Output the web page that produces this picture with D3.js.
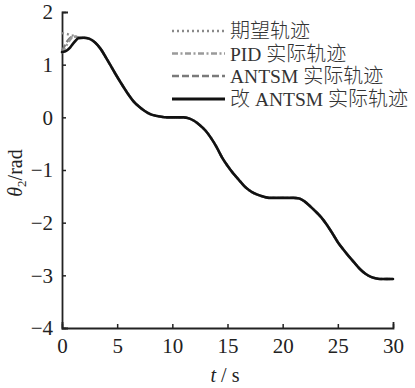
<!DOCTYPE html>
<html>
<head>
<meta charset="utf-8">
<script src="https://cdn.jsdelivr.net/npm/d3@7"></script>
<style>
  html, body { margin: 0; padding: 0; background: #fff; }
  svg { display: block; }
  text { fill: #222; }
  .serif { font-family: "Liberation Serif", "Times New Roman", serif; }
  .cjk { font-family: "Noto Sans CJK SC", sans-serif; }
</style>
</head>
<body>
<svg id="chart" width="415" height="388"></svg>
<script>
// ---- data ----
const headTimes = [0, 0.25, 0.5, 0.75, 1, 1.25, 1.5, 2];
const desiredHead  = [1.60, 1.59, 1.58, 1.56, 1.55, 1.53, 1.52, 1.51];
const pidHead      = [1.22, 1.30, 1.40, 1.48, 1.53, 1.53, 1.52, 1.51];
const antsmHead    = [1.26, 1.36, 1.45, 1.51, 1.54, 1.53, 1.52, 1.51];
const improvedHead = [1.24, 1.25, 1.28, 1.33, 1.40, 1.46, 1.50, 1.51];

const tailTimes = [2.5, 3, 3.5, 4, 4.5, 5, 5.5, 6, 6.5, 7, 7.5, 8, 8.5, 9, 9.5, 10,
  10.5, 11, 11.5, 12, 12.5, 13, 13.5, 14, 14.5, 15, 15.5, 16, 16.5, 17, 17.5, 18,
  18.5, 19, 19.5, 20, 20.5, 21, 21.5, 22, 22.5, 23, 23.5, 24, 24.5, 25, 25.5, 26,
  26.5, 27, 27.5, 28, 28.5, 29, 29.5, 30];
const commonTail = [1.49, 1.42, 1.30, 1.13, 0.95, 0.77, 0.60, 0.44, 0.30, 0.20, 0.12, 0.06, 0.03, 0.01, 0.00, 0.00,
  0.00, 0.00, -0.02, -0.07, -0.15, -0.25, -0.39, -0.56, -0.76, -0.92, -1.06, -1.18, -1.30, -1.39, -1.45, -1.49,
  -1.52, -1.53, -1.53, -1.53, -1.53, -1.53, -1.54, -1.60, -1.69, -1.79, -1.90, -2.04, -2.20, -2.37, -2.51, -2.64,
  -2.76, -2.88, -2.97, -3.03, -3.06, -3.07, -3.07, -3.07];

const xTicks = [0, 5, 10, 15, 20, 25, 30];
const yTicks = [-4, -3, -2, -1, 0, 1, 2];

const seriesNames = ["期望轨迹", "PID 实际轨迹", "ANTSM 实际轨迹", "改 ANTSM 实际轨迹"];

// ---- build series ----
const times = headTimes.concat(tailTimes);
function build(head) { return head.concat(commonTail).map((v, i) => ({ t: times[i], v })); }
const series = [
  { name: seriesNames[0], data: build(desiredHead),  color: "#8a8a8a", width: 2.4, dash: "2,3", cap: "butt" },
  { name: seriesNames[1], data: build(pidHead),      color: "#9a9a9a", width: 2.4, dash: "6,2.5,2,2.5", cap: "butt" },
  { name: seriesNames[2], data: build(antsmHead),    color: "#7a7a7a", width: 2.4, dash: "7,3", cap: "butt" },
  { name: seriesNames[3], data: build(improvedHead), color: "#111111", width: 2.6, dash: null, cap: "round" }
];

// ---- layout ----
const svg = d3.select("#chart");
const x = d3.scaleLinear().domain([0, 30]).range([62, 393]);
const y = d3.scaleLinear().domain([-4, 2]).range([328, 12]);

// axes
const xAxis = d3.axisBottom(x).tickValues(xTicks).tickFormat(d3.format("d"))
  .tickSizeInner(-4).tickSizeOuter(-6).tickPadding(10);
const yAxis = d3.axisLeft(y).tickValues(yTicks).tickFormat(d3.format("d"))
  .tickSizeInner(-4).tickSizeOuter(-6).tickPadding(9);

const gx = svg.append("g").attr("transform", `translate(0,${y(-4)})`).call(xAxis);
const gy = svg.append("g").attr("transform", `translate(${x(0)},0)`).call(yAxis);
[gx, gy].forEach(g => {
  g.attr("font-family", null).attr("font-size", null);
  g.select(".domain").attr("stroke", "#222").attr("stroke-width", 1.8);
  g.selectAll(".tick line").attr("stroke", "#222").attr("stroke-width", 1.5);
  g.selectAll(".tick text").attr("class", "serif").style("font-size", "21px").attr("fill", "#222");
});

// lines
const line = d3.line().x(d => x(d.t)).y(d => y(d.v)).curve(d3.curveMonotoneX);
const drawOrder = [2, 1, 0, 3];
drawOrder.forEach(i => {
  const s = series[i];
  svg.append("path")
    .datum(s.data)
    .attr("d", line)
    .attr("fill", "none")
    .attr("stroke", s.color)
    .attr("stroke-width", s.width)
    .attr("stroke-linecap", s.cap)
    .attr("stroke-linejoin", "round")
    .attr("stroke-dasharray", s.dash);
});

// legend
const legRows = [31, 53.5, 76, 99];
series.forEach((s, i) => {
  const yy = legRows[i];
  svg.append("line")
    .attr("x1", 172).attr("x2", 225).attr("y1", yy).attr("y2", yy)
    .attr("stroke", s.color).attr("stroke-width", s.width + 0.2)
    .attr("stroke-dasharray", s.dash);
  const txt = svg.append("text").attr("x", 230).attr("y", yy + 7);
  const parts = s.name.match(/[\u4e00-\u9fff]+|[^\u4e00-\u9fff]+/g);
  parts.forEach(p => {
    const cjk = /[\u4e00-\u9fff]/.test(p);
    txt.append("tspan")
      .attr("class", cjk ? "cjk" : "serif")
      .style("font-size", cjk ? "20px" : "19.5px")
      .style("font-weight", cjk ? 300 : 400)
      .attr("fill", "#333")
      .text(p);
  });
});

// axis labels
const xl = svg.append("text").attr("class", "serif").attr("x", 225).attr("y", 382)
  .attr("text-anchor", "middle").style("font-size", "20px");
xl.append("tspan").style("font-style", "italic").text("t");
xl.append("tspan").text(" / s");

const yl = svg.append("text").attr("class", "serif")
  .attr("transform", `translate(22,173) rotate(-90)`)
  .attr("text-anchor", "middle").style("font-size", "20px");
yl.append("tspan").style("font-style", "italic").text("θ");
yl.append("tspan").style("font-size", "13px").attr("dy", 4).text("2");
yl.append("tspan").attr("dy", -4).text("/rad");
</script>
</body>
</html>
